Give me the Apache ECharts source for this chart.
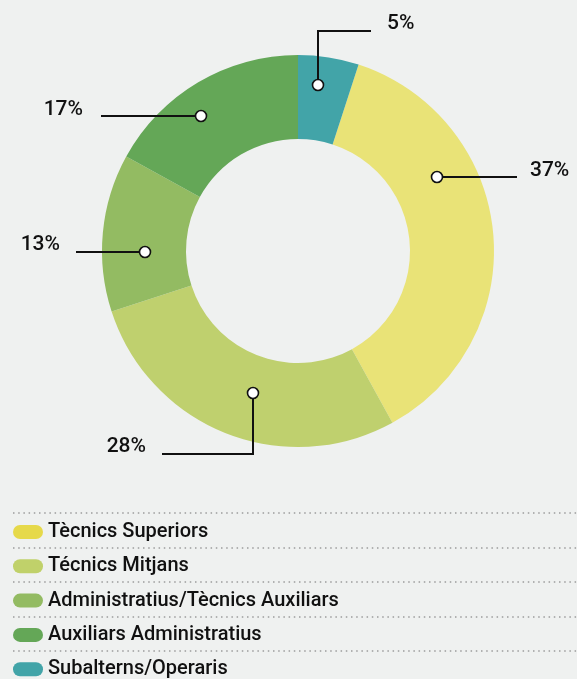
<!DOCTYPE html>
<html>
<head>
<meta charset="utf-8">
<script src="https://cdn.jsdelivr.net/npm/echarts@6/dist/echarts.min.js"></script>
<style>
  html, body { margin: 0; padding: 0; background: #eff1f0; }
  #chart { width: 577px; height: 679px; }
</style>
</head>
<body>
<div id="chart"></div>
<script>
// data
const categories = ['Tècnics Superiors', 'Técnics Mitjans', 'Administratius/Tècnics Auxiliars', 'Auxiliars Administratius', 'Subalterns/Operaris']
const values = [37, 28, 13, 17, 5]
const colors = ['#e9e377', '#bfd06e', '#93bb62', '#64a757', '#42a4a8']
const legendColors = ['#e6d94a', '#c0d16a', '#93bb62', '#64a757', '#42a4a8']

// layout of the ring and the callouts (offsets from the pie centre)
const cx = 298, cy = 251
const callouts = [
    { line: [[139, -74], [219, -74]], label: [232, -80], align: 'left' },
    { line: [[-45, 142], [-45, 203], [-136, 203]], label: [-152, 196], align: 'right' },
    { line: [[-153, 1], [-222, 1]], label: [-238, -6], align: 'right' },
    { line: [[-97, -135], [-197, -135]], label: [-215, -141], align: 'right' },
    { line: [[20, -166], [20, -220], [73, -220]], label: [89, -227], align: 'left' },
]

const font = 'Roboto, "DejaVu Sans", sans-serif'
const chart = echarts.init(document.getElementById('chart'))

const graphics = []
// dotted separators of the legend
;[513, 548, 582, 617, 651].forEach(y => {
    graphics.push({
        type: 'line', silent: true,
        shape: { x1: 13, y1: y, x2: 577, y2: y },
        style: { stroke: '#9c9c9c', lineWidth: 1.5, lineDash: [1.5, 3.7] },
    })
})
// leader lines with a white dot where they start
callouts.forEach(c => {
    graphics.push({
        type: 'polyline', silent: true, z: 99,
        shape: { points: c.line.map(p => [cx + p[0], cy + p[1]]) },
        style: { stroke: '#111', lineWidth: 2, fill: null },
    })
    graphics.push({
        type: 'circle', silent: true, z: 100,
        shape: { cx: cx + c.line[0][0], cy: cy + c.line[0][1], r: 5.5 },
        style: { fill: '#fff', stroke: '#111', lineWidth: 1.6 },
    })
})

chart.setOption({
    backgroundColor: '#eff1f0',
    animation: false,
    legend: {
        orient: 'vertical',
        left: 13,
        top: 522,
        height: 170,
        padding: 0,
        itemWidth: 30,
        itemHeight: 14,
        itemGap: 14.3,
        icon: 'path://M7,0 H23 A7,7 0 0 1 23,14 H7 A7,7 0 0 1 7,0 Z',
        selectedMode: false,
        textStyle: { fontFamily: font, fontSize: 20, fontWeight: 500, color: '#111', lineHeight: 20 },
        data: categories.map((name, i) => ({ name, itemStyle: { color: legendColors[i] } })),
    },
    graphic: graphics,
    series: [
        {
            type: 'pie',
            center: [cx, cy],
            radius: [112, 196],
            startAngle: 72,
            clockwise: true,
            avoidLabelOverlap: false,
            emphasis: { disabled: true },
            label: {
                show: true,
                position: 'outside',
                formatter: '{c}%',
                fontFamily: font,
                fontSize: 21,
                fontWeight: 500,
                color: '#111',
            },
            labelLine: { show: false },
            labelLayout: params => {
                const c = callouts[params.dataIndex]
                return {
                    x: cx + c.label[0],
                    y: cy + c.label[1],
                    align: c.align,
                    verticalAlign: 'middle',
                }
            },
            data: categories.map((name, i) => ({
                name,
                value: values[i],
                itemStyle: { color: colors[i] },
            })),
        },
    ],
})
</script>
</body>
</html>
